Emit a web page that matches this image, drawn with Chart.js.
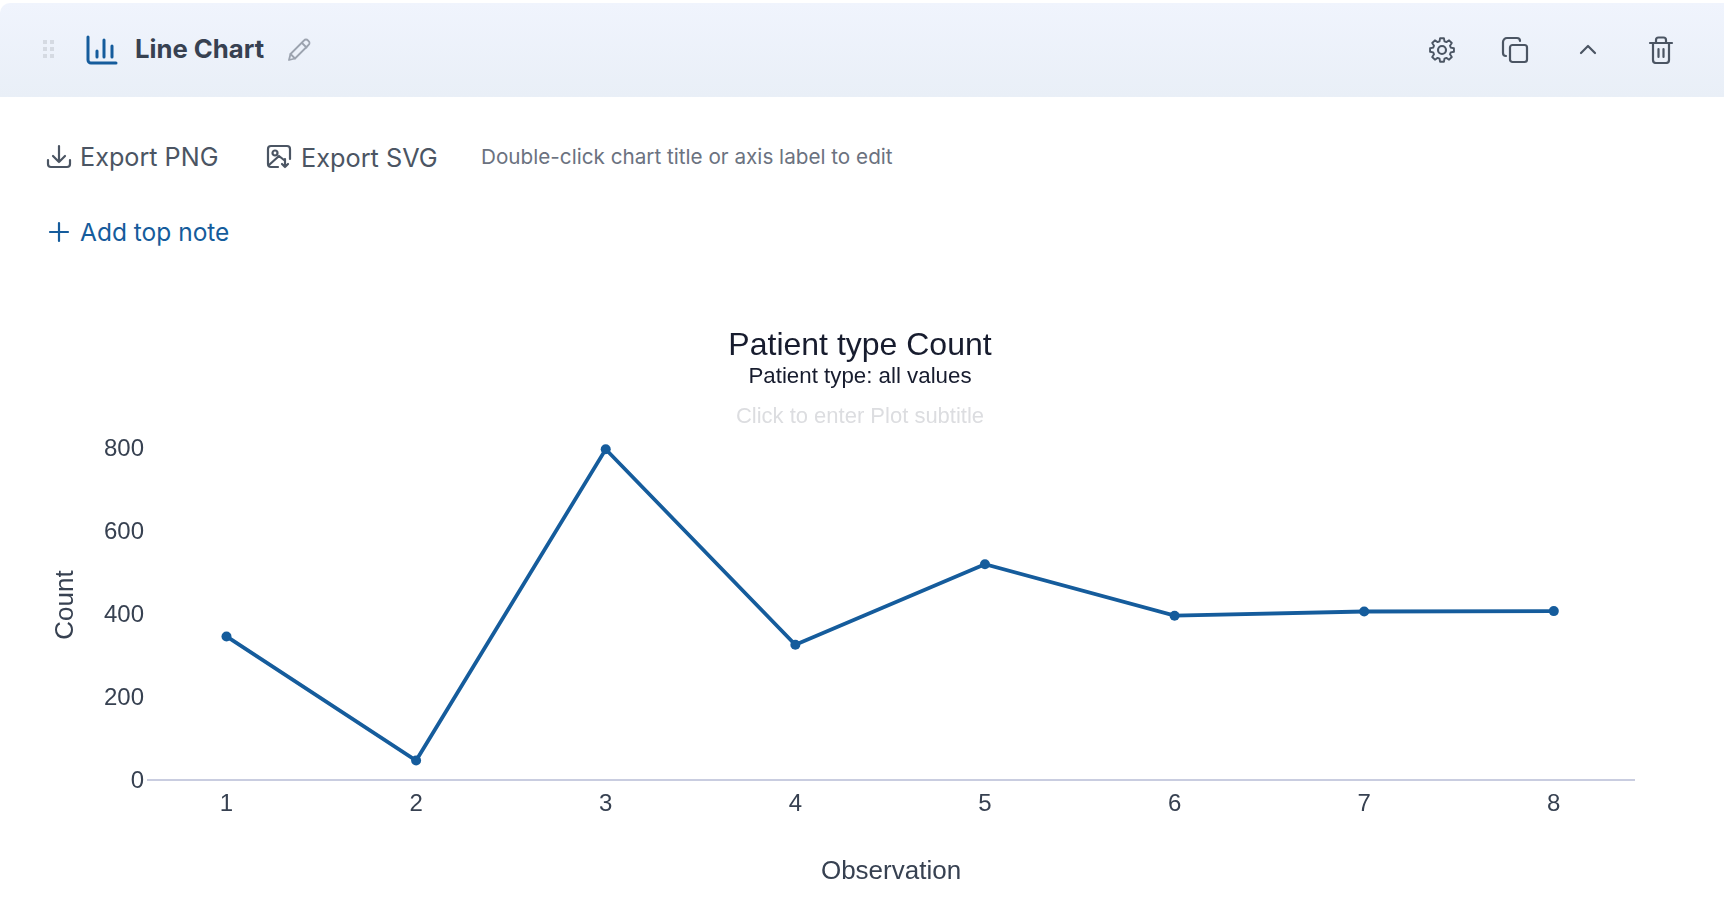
<!DOCTYPE html>
<html><head><meta charset="utf-8"><title>Line Chart</title>
<script src="https://cdn.jsdelivr.net/npm/chart.js@4"></script>
<style>
html,body{margin:0;padding:0;background:#fff;width:1728px;height:906px;overflow:hidden}
*{box-sizing:border-box}
.abs{position:absolute;white-space:nowrap;line-height:1}
#hdr{position:absolute;left:0;top:3px;width:1724px;height:94px;background:linear-gradient(180deg,#f0f4fd 0%,#e9eff7 100%);border-top-left-radius:10px}
.ui{font-family:Inter,"Liberation Sans",sans-serif}
svg{position:absolute;fill:none;stroke-linecap:round;stroke-linejoin:round}
#c{position:absolute;left:0;top:97px}
</style></head><body>
<div id="hdr"></div>
<svg style="left:40px;top:38px" width="16" height="24"><g fill="#d5dae2"><rect x="3" width="4" height="4" y="2"/><rect x="10" width="4" height="4" y="2"/><rect x="3" width="4" height="4" y="9"/><rect x="10" width="4" height="4" y="9"/><rect x="3" width="4" height="4" y="16"/><rect x="10" width="4" height="4" y="16"/></g></svg>
<svg style="left:84px;top:32px" width="36" height="36" stroke="#155c9c" stroke-width="3"><path d="M4 5V28a3 3 0 0 0 3 3H32"/><path d="M13 19v6M20 8v17M28 14v11"/></svg>
<div class="abs ui" style="left:135px;top:36px;font-size:25.700px;font-weight:700;color:#374151">Line Chart</div>
<svg style="left:286px;top:37px" width="26" height="26" stroke="#9ca3af" stroke-width="1.8"><path d="M3 23l1.5-6L18 3.500a2.500 2.500 0 0 1 4 0l.5.5a2.500 2.500 0 0 1 0 4L9 21.500z"/><path d="M16 6l4.500 4.500M4.500 17l4.500 4.500"/></svg>
<svg style="left:1427px;top:35px" width="30" height="30" viewBox="0 0 24 24" stroke="#4b5563" stroke-width="1.700"><circle cx="12" cy="12" r="3.200"/><path d="M10.300 2.500h3.400l.5 2.800 1.700.7 2.400-1.600 2.400 2.400-1.600 2.400.7 1.700 2.800.5v3.200l-2.800.5-.7 1.700 1.600 2.400-2.400 2.400-2.400-1.600-1.700.7-.5 2.800h-3.400l-.5-2.800-1.700-.7-2.400 1.600-2.400-2.400 1.600-2.400-.7-1.700-2.800-.5v-3.200l2.800-.5.7-1.700-1.600-2.400 2.400-2.400 2.400 1.600 1.700-.7z" transform="translate(12 12) scale(.9) translate(-12 -13)"/></svg>
<svg style="left:1501px;top:36px" width="30" height="28" stroke="#4b5563" stroke-width="2.200"><rect x="9" y="9" width="17" height="17" rx="2.500"/><path d="M5 20a3 3 0 0 1-3-3V6a4 4 0 0 1 4-4h10a3 3 0 0 1 3 3"/></svg>
<svg style="left:1578px;top:42px" width="20" height="14" stroke="#4b5563" stroke-width="2.200"><path d="M3 11l7-7 7 7"/></svg>
<svg style="left:1648px;top:36px" width="26" height="28" stroke="#4b5563" stroke-width="2.200"><path d="M2 7h22M5 7v17a3 3 0 0 0 3 3h10a3 3 0 0 0 3-3V7M8 7V4a2.500 2.500 0 0 1 2.500-2.500h5A2.500 2.500 0 0 1 18 4v3M10.500 13v8M15.500 13v8"/></svg>

<svg style="left:46px;top:144px" width="26" height="26" stroke="#4b5563" stroke-width="2.200"><path d="M2 16v4a3 3 0 0 0 3 3h16a3 3 0 0 0 3-3v-4M13 2v16M7 12l6 6 6-6"/></svg>
<div class="abs ui" style="left:80px;top:145px;font-size:25.200px;color:#4b5563">Export PNG</div>
<svg style="left:266px;top:144px" width="26" height="26" stroke="#4b5563" stroke-width="2.200"><path d="M12 23H5a3 3 0 0 1-3-3V5a3 3 0 0 1 3-3h16a3 3 0 0 1 3 3v10"/><circle cx="9" cy="9" r="2.500"/><path d="M3 21l10-9 5 4M19 15v8M16 20l3 3 3-3"/></svg>
<div class="abs ui" style="left:301px;top:145px;font-size:25.300px;color:#4b5563">Export SVG</div>
<div class="abs ui" style="left:481px;top:147px;font-size:20.700px;color:#6b7280">Double-click chart title or axis label to edit</div>
<svg style="left:47px;top:220px" width="24" height="24" stroke="#155c9c" stroke-width="2.200"><path d="M12 3v18M3 12h18"/></svg>
<div class="abs ui" style="left:80px;top:220px;font-size:24.500px;color:#155c9c">Add top note</div>

<canvas id="c" width="1720" height="809"></canvas>
<div class="abs" style="left:0;width:1720px;text-align:center;top:405px;font:22px 'Liberation Sans',sans-serif;color:#dcdde0;line-height:22px">Click to enter Plot subtitle</div>

<script>
const chartTitle = "Patient type Count";
const chartSubtitle = "Patient type: all values";
const xAxisLabel = "Observation";
const yAxisLabel = "Count";
const observations = [1, 2, 3, 4, 5, 6, 7, 8];
const counts = [346, 47, 797, 326, 520, 396, 406, 407];
const yTicks = [0, 200, 400, 600, 800];

const FONT = "'Liberation Sans', sans-serif";
const LINE = "#155c9c";
new Chart(document.getElementById("c"), {
  type: "line",
  data: { datasets: [{
    data: observations.map((o, i) => ({ x: o, y: counts[i] })),
    borderColor: LINE, backgroundColor: LINE, pointBackgroundColor: LINE,
    borderWidth: 3.8, pointRadius: 5, pointBorderWidth: 0, tension: 0, clip: false
  }]},
  options: {
    responsive: false, animation: false, devicePixelRatio: 1,
    layout: { padding: { left: 86, right: 86, top: 0, bottom: 19 } },
    plugins: {
      legend: { display: false }, tooltip: { enabled: false },
      title: { display: true, text: chartTitle, color: "#171c2e",
        font: { family: FONT, size: 32, weight: "normal", lineHeight: 1.2 },
        padding: { top: 230, bottom: -2 } },
      subtitle: { display: true, text: chartSubtitle, color: "#171c2e",
        font: { family: FONT, size: 22.3, weight: "normal", lineHeight: 1.2 },
        padding: { top: 0, bottom: 40 } }
    },
    scales: {
      x: { type: "linear", min: 0.586, max: 8.423,
        afterFit: s => { s.height = 107; },
        grid: { display: false, drawTicks: false },
        border: { display: true, color: "#c9cde0", width: 2 },
        ticks: { stepSize: 1, includeBounds: false, color: "#374151", padding: 10, maxRotation: 0,
          font: { family: FONT, size: 24 }, callback: v => String(v) },
        title: { display: true, text: xAxisLabel, color: "#374151",
          font: { family: FONT, size: 26 }, padding: { top: 0, bottom: 0 } } },
      y: { type: "linear", min: 0, max: 843,
        afterFit: s => { s.width = 62; },
        afterBuildTicks: s => { s.ticks = yTicks.map(v => ({ value: v })); },
        grid: { display: false, drawTicks: false },
        border: { display: false },
        ticks: { color: "#374151", padding: 4, labelOffset: 1.5, font: { family: FONT, size: 24 } },
        title: { display: true, text: yAxisLabel, color: "#374151",
          font: { family: FONT, size: 26 }, padding: { top: -36, bottom: -36 } } }
    }
  }
});
</script>
</body></html>
